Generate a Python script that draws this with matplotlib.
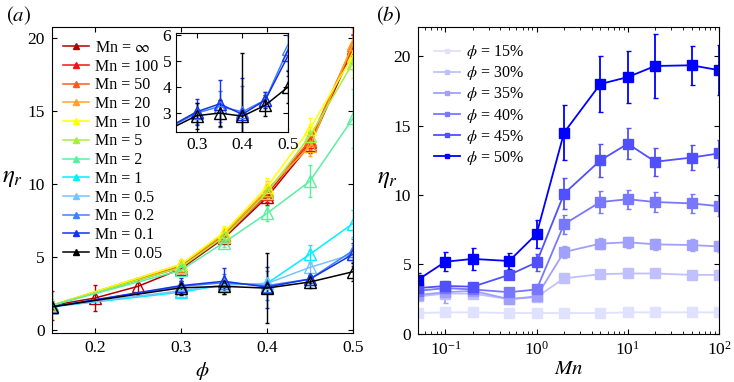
import numpy as np
import matplotlib
matplotlib.use('Agg')
import matplotlib.pyplot as plt
from matplotlib.lines import Line2D

plt.rcParams['font.family'] = ['Liberation Serif', 'DejaVu Serif']
plt.rcParams['mathtext.fontset'] = 'stix'
plt.rcParams['xtick.direction'] = 'in'
plt.rcParams['ytick.direction'] = 'in'
plt.rcParams['xtick.top'] = True
plt.rcParams['ytick.right'] = True
plt.rcParams['font.size'] = 12.5

# ---------------- panel (a) data ----------------
phi_inf = [0.15, 0.2, 0.25, 0.3, 0.35, 0.4, 0.45, 0.5]
phi = [0.15, 0.3, 0.35, 0.4, 0.45, 0.5]

mn_labels = ['Mn = $\\infty$', 'Mn = 100', 'Mn = 50', 'Mn = 20', 'Mn = 10', 'Mn = 5',
             'Mn = 2', 'Mn = 1', 'Mn = 0.5', 'Mn = 0.2', 'Mn = 0.1', 'Mn = 0.05']
mn_colors = ['#b40000', '#f01414', '#ff5a1e', '#ffa51e', '#ffff00', '#a5f03c',
             '#5af0a0', '#00f0ff', '#78c3ff', '#3c82ff', '#1432f0', '#000000']

eta_a = [
    [1.7, 2.2, 3.0, 4.2, 6.3, 9.1, 12.7, 19.2],
    [1.7, 4.3, 6.4, 9.3, 12.9, 19.3],
    [1.7, 4.4, 6.5, 9.5, 13.0, 19.5],
    [1.7, 4.5, 6.6, 9.6, 12.6, 19.6],
    [1.7, 4.5, 6.7, 9.8, 13.8, 18.8],
    [1.7, 4.3, 6.4, 9.4, 13.3, 18.3],
    [1.7, 4.1, 6.0, 8.0, 10.2, 14.5],
    [1.6, 2.6, 3.1, 3.2, 5.2, 7.3],
    [1.6, 2.7, 3.1, 3.2, 4.3, 5.2],
    [1.6, 3.0, 3.25, 3.05, 3.5, 5.45],
    [1.6, 3.05, 3.35, 2.95, 3.5, 5.2],
    [1.6, 2.9, 3.0, 2.88, 3.3, 4.0],
]
err_a = [
    [1.0, 0.9, 0.6, 0.3, 0.3, 0.5, 0.6, 1.0],
    [0.2, 0.3, 0.3, 0.5, 0.6, 1.0],
    [0.2, 0.3, 0.3, 0.5, 0.6, 1.2],
    [0.2, 0.3, 0.4, 0.6, 0.7, 1.2],
    [0.2, 0.3, 0.4, 0.6, 0.7, 1.0],
    [0.2, 0.3, 0.3, 0.5, 0.6, 1.0],
    [0.2, 0.2, 0.3, 0.5, 1.1, 2.0],
    [0.2, 0.2, 0.3, 0.3, 0.6, 0.9],
    [0.2, 0.2, 0.3, 0.3, 0.4, 0.6],
    [0.2, 0.4, 0.6, 1.0, 0.3, 0.8],
    [0.2, 0.5, 0.9, 1.4, 0.3, 0.8],
    [0.2, 0.5, 0.5, 2.4, 0.4, 0.6],
]

# ---------------- panel (b) data ----------------
mn = [0.05, 0.1, 0.2, 0.5, 1, 2, 5, 10, 20, 50, 100]
phi_labels = ['$\\phi$ = 15%', '$\\phi$ = 30%', '$\\phi$ = 35%',
              '$\\phi$ = 40%', '$\\phi$ = 45%', '$\\phi$ = 50%']
phi_colors = ['#e0e0ff', '#c0c0ff', '#a0a0ff', '#7878ff', '#5050ff', '#0000ff']
eta_b = [
    [1.5, 1.55, 1.55, 1.5, 1.5, 1.5, 1.5, 1.55, 1.55, 1.55, 1.55],
    [2.7, 2.9, 2.9, 2.5, 2.65, 4.0, 4.3, 4.35, 4.35, 4.25, 4.25],
    [2.8, 3.0, 3.1, 2.5, 2.7, 5.9, 6.5, 6.6, 6.45, 6.4, 6.3],
    [3.1, 3.3, 3.2, 3.0, 3.2, 7.9, 9.5, 9.7, 9.5, 9.4, 9.2],
    [3.3, 3.45, 3.4, 4.25, 5.15, 10.1, 12.5, 13.7, 12.4, 12.7, 13.0],
    [3.9, 5.2, 5.4, 5.25, 7.2, 14.5, 18.0, 18.5, 19.3, 19.35, 19.0],
]
err_b = [
    [2.3, 0.1, 0.1, 0.1, 0.1, 0.1, 0.1, 0.1, 0.1, 0.1, 0.1],
    [0.3, 0.3, 0.2, 0.2, 0.2, 0.2, 0.2, 0.2, 0.2, 0.2, 0.2],
    [0.3, 0.8, 0.3, 0.2, 0.2, 0.4, 0.4, 0.4, 0.4, 0.4, 0.4],
    [0.3, 0.4, 0.3, 0.2, 0.3, 0.7, 0.8, 0.7, 0.7, 0.7, 0.7],
    [0.3, 0.3, 0.3, 0.3, 0.6, 1.1, 1.2, 1.1, 1.0, 0.9, 1.0],
    [0.5, 0.7, 0.8, 0.6, 1.0, 2.0, 2.0, 1.9, 2.3, 1.4, 1.8],
]

fig = plt.figure(figsize=(7.34, 3.82), dpi=100)

# ---------------- panel (a) ----------------
ax1 = fig.add_axes([0.0708, 0.128, 0.410, 0.801])
for i in range(len(mn_labels)):
    x = phi_inf if i == 0 else phi
    ax1.errorbar(x, eta_a[i], yerr=err_a[i], color=mn_colors[i], lw=1.1,
                 elinewidth=1.0, capsize=1.5, marker='^', ms=8, mfc='none',
                 mew=1.0)
ax1.set_xlim(0.15, 0.5)
ax1.set_ylim(-0.2, 20.75)
ax1.set_xticks([0.2, 0.3, 0.4, 0.5])
ax1.set_xticklabels(['0.2', '0.3', '0.4', '0.5'])
ax1.set_yticks([0, 5, 10, 15, 20])
ax1.tick_params(pad=5)
ax1.set_xlabel('$\\phi$', fontsize=15, labelpad=3)
ax1.set_ylabel('$\\eta_r$', fontsize=18, rotation=0)
ax1.yaxis.set_label_coords(-0.13, 0.47)
handles = [Line2D([], [], color=c, marker='^', ms=4, lw=1.1) for c in mn_colors]
ax1.legend(handles, mn_labels, loc='upper left', frameon=False, fontsize=11.5,
           handlelength=1.6, handletextpad=0.4, labelspacing=0.17,
           borderaxespad=0.3, bbox_to_anchor=(0.0, 0.995))
fig.text(0.008, 0.945, '$(a)$', fontsize=15)

# inset
axi = fig.add_axes([0.240, 0.654, 0.1526, 0.259])
for i in [9, 10, 11]:
    axi.errorbar(phi, eta_a[i], yerr=err_a[i], color=mn_colors[i], lw=1.1,
                 elinewidth=1.0, capsize=1.5, marker='^', ms=8, mfc='none',
                 mew=1.0)
axi.set_xlim(0.255, 0.5)
axi.set_ylim(2.27, 6.05)
axi.set_xticks([0.3, 0.4, 0.5])
axi.set_yticks([3, 4, 5, 6])

# ---------------- panel (b) ----------------
ax2 = fig.add_axes([0.5695, 0.126, 0.410, 0.803])
for i in range(len(phi_labels)):
    ax2.errorbar(mn, eta_b[i], yerr=err_b[i], color=phi_colors[i], lw=1.3,
                 elinewidth=1.3, capsize=1.8, marker='s', ms=7)
ax2.set_xscale('log')
ax2.set_xlim(0.05, 100)
ax2.set_ylim(0, 22.1)
ax2.set_yticks([0, 5, 10, 15, 20])
ax2.tick_params(pad=5)
ax2.set_xlabel('$Mn$', fontsize=15, labelpad=1)
ax2.set_ylabel('$\\eta_r$', fontsize=18, rotation=0)
ax2.yaxis.set_label_coords(-0.10, 0.47)
handles_b = [Line2D([], [], color=c, marker='s', ms=3.5, lw=1.3) for c in phi_colors]
ax2.legend(handles_b, phi_labels, loc='upper left', frameon=False, fontsize=11.5,
           handlelength=1.6, handletextpad=0.4, labelspacing=0.2,
           borderaxespad=0.6)
fig.text(0.512, 0.945, '$(b)$', fontsize=15)

plt.savefig('out.png', dpi=100)
